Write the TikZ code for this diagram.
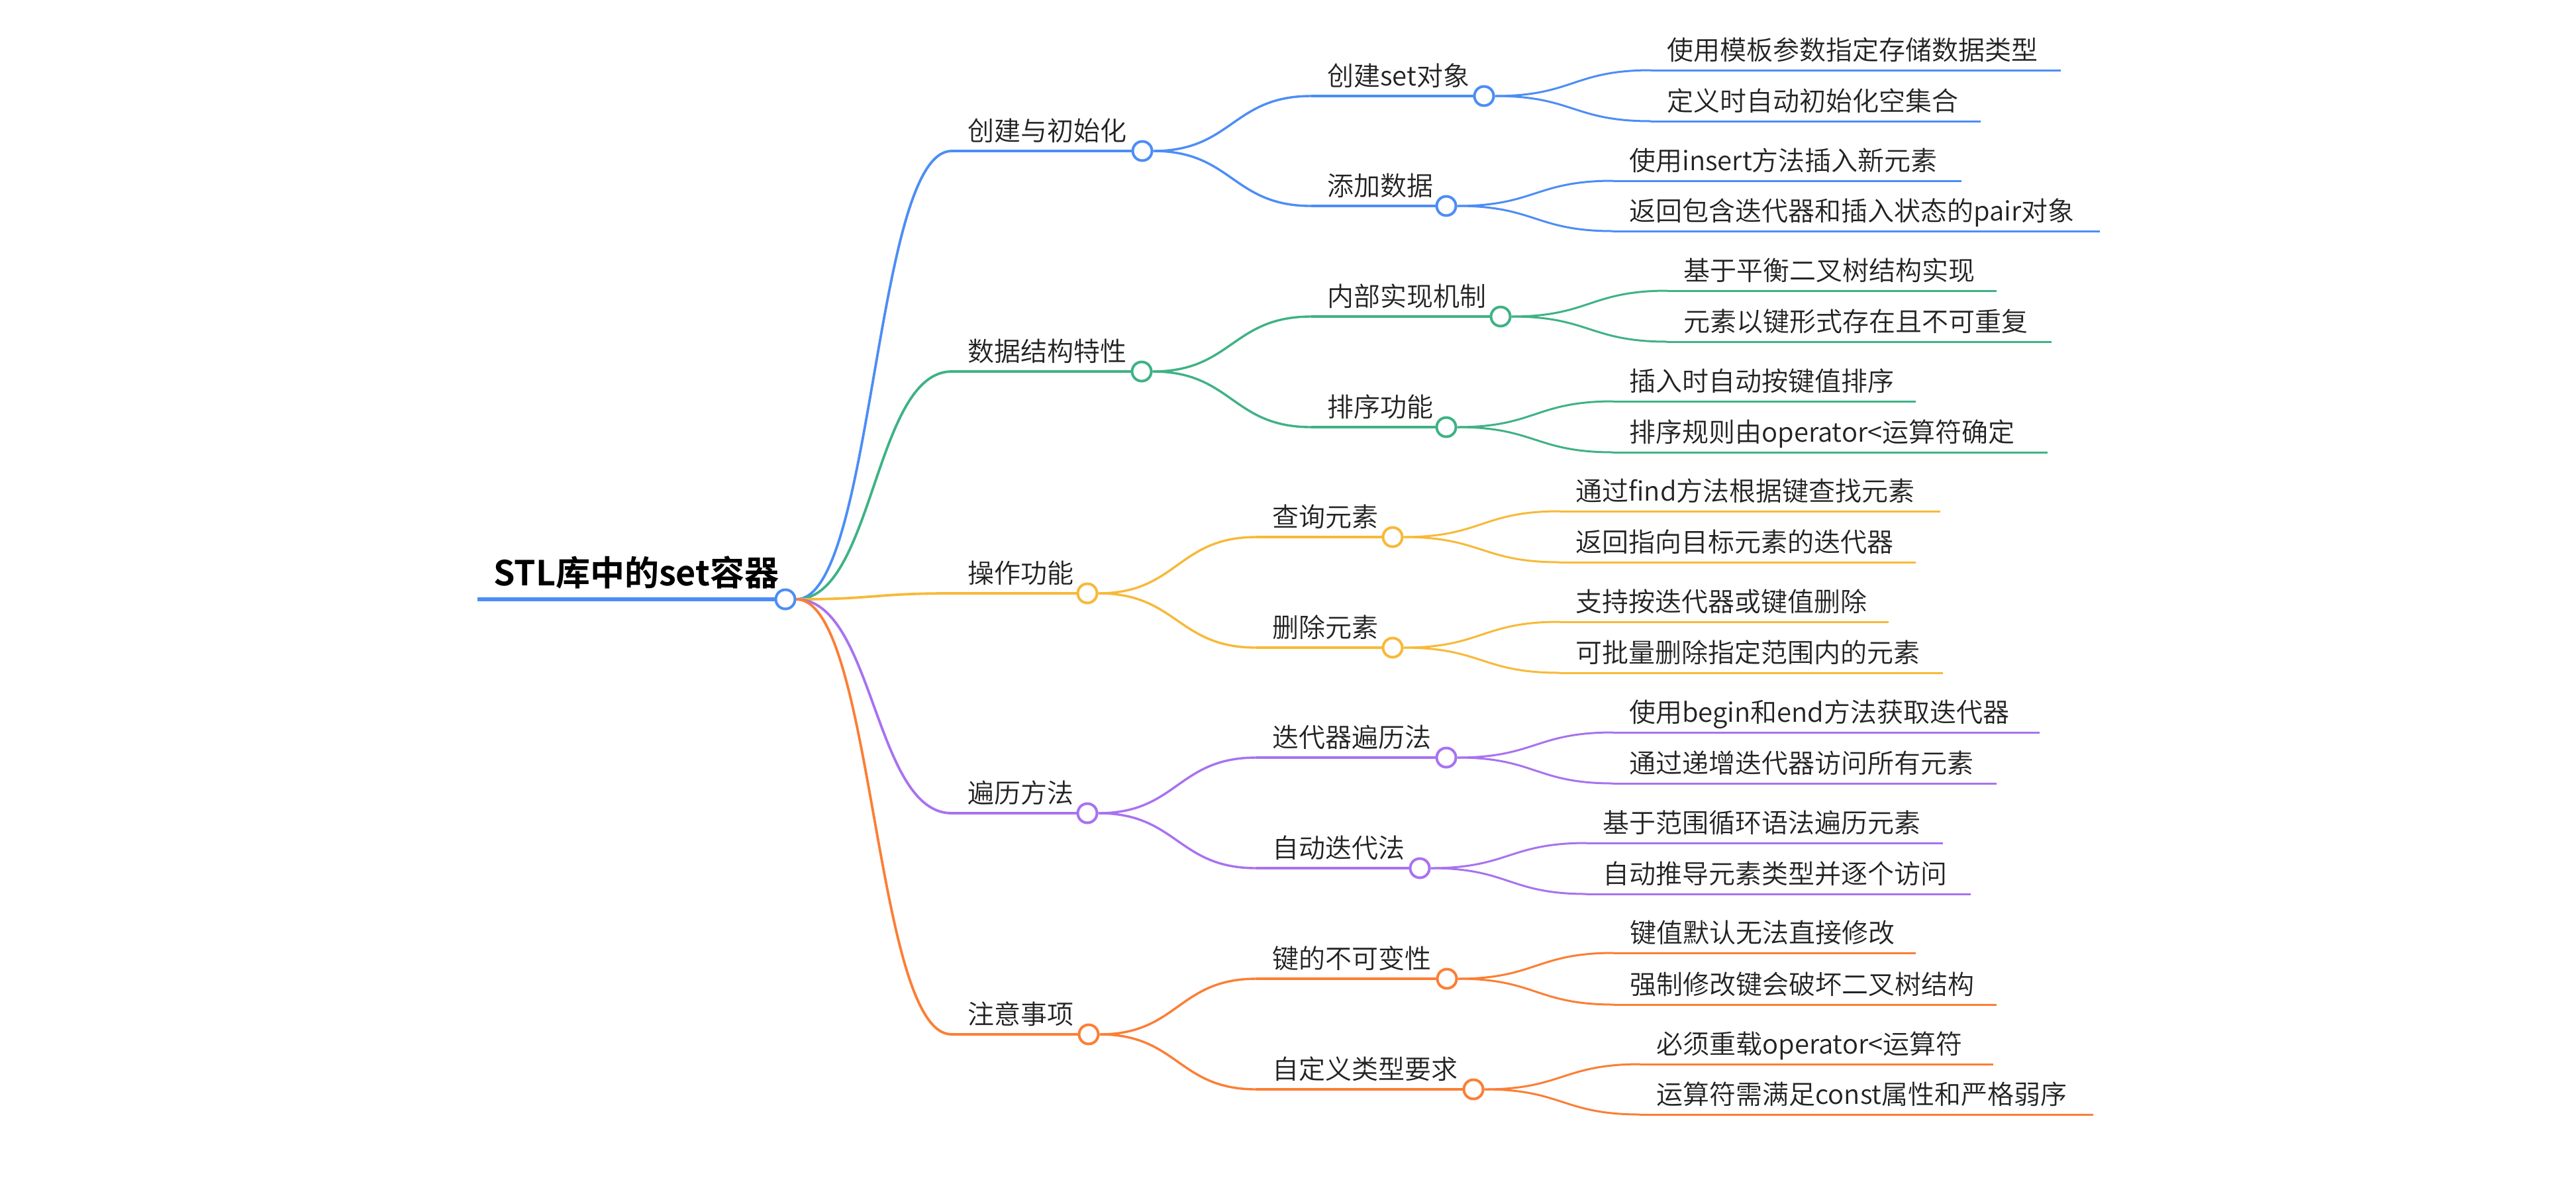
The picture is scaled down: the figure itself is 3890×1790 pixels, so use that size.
\documentclass[tikz,border=0pt]{standalone}
\usepackage{fontspec}
\setmainfont{Noto Sans CJK SC DemiLight}[BoldFont={Noto Sans CJK SC Bold}]
\usetikzlibrary{calc}
\definecolor{cblue}{HTML}{4C8DF6}
\definecolor{cgreen}{HTML}{3FB285}
\definecolor{cyellow}{HTML}{F8B938}
\definecolor{cpurple}{HTML}{A872F0}
\definecolor{corange}{HTML}{FC7E34}
\definecolor{ctext}{HTML}{222222}
\tikzset{
  dot/.style={circle, draw=#1, fill=white, line width=2pt, minimum size=14.5pt, inner sep=0pt},
  txt/.style={anchor=base west, inner sep=0pt, text=ctext, font=\fontsize{20pt}{24pt}\selectfont},
  roottxt/.style={anchor=base west, inner sep=0pt, text=black, font=\bfseries\fontsize{26pt}{30pt}\selectfont},
  lroot/.style={line width=3pt},
  lone/.style={line width=1.9pt},
  ltwo/.style={line width=1.7pt},
  lleaf/.style={line width=1.5pt},
}
\newcommand\conn[3]{\draw[#1] let \p1=(#2), \p2=(#3) in (\p1) .. controls ({(\x1+\x2)/2},\y1) and ({(\x1+\x2)/2},\y2) .. (\p2);}
% name, color, y, circle x, text
\newcommand\lvlone[5]{%
  \coordinate (#1s) at (1437,#3);
  \node[dot=#2] (#1) at (#4,#3) {};
  \node[txt] (#1t) at (1461,{#3-16}) {#5};
  \draw[#2,lone] (#1s) -- (#1.west);
  \conn{#2,lone}{root.east}{#1s}
}
% name, parent, color, line start x, y, circle x, text
\newcommand\lvltwo[7]{%
  \coordinate (#1s) at (#4,#5);
  \node[dot=#3] (#1) at (#6,#5) {};
  \node[txt] (#1t) at ({#4+24},{#5-16}) {#7};
  \draw[#3,ltwo] (#1s) -- (#1.west);
  \conn{#3,ltwo}{#2.east}{#1s}
}
% name, parent, color, line start x, y, end x, text
\newcommand\leaf[7]{%
  \coordinate (#1s) at (#4,#5);
  \coordinate (#1e) at (#6,#5);
  \node[txt] (#1t) at ({#4+24},{#5-16}) {#7};
  \draw[#3,lleaf] (#1s) -- (#1e);
  \conn{#3,lleaf}{#2.east}{#1s}
}
\begin{document}
\begin{tikzpicture}[x=0.5pt,y=-0.5pt]
\fill[white] (0,0) rectangle (3890,1790);
\useasboundingbox (0,0) rectangle (3890,1790);
% root
\coordinate (rootS) at (721,905);
\node[dot=cblue] (root) at (1186,905) {};
\node[roottxt] (rootT) at (745,884) {STL库中的set容器};
\draw[cblue,lroot] (rootS) -- (root.west);
% level 1
\lvlone{A}{cblue}{228}{1725}{创建与初始化}
\lvlone{B}{cgreen}{561}{1724}{数据结构特性}
\lvlone{C}{cyellow}{896}{1642}{操作功能}
\lvlone{D}{cpurple}{1228}{1642}{遍历方法}
\lvlone{E}{corange}{1562}{1644}{注意事项}
% level 2
\lvltwo{A1}{A}{cblue}{1980}{145}{2241}{创建set对象}
\lvltwo{A2}{A}{cblue}{1980}{311}{2184}{添加数据}
\lvltwo{B1}{B}{cgreen}{1980}{478}{2266}{内部实现机制}
\lvltwo{B2}{B}{cgreen}{1980}{645}{2184}{排序功能}
\lvltwo{C1}{C}{cyellow}{1897}{811}{2103}{查询元素}
\lvltwo{C2}{C}{cyellow}{1897}{978}{2103}{删除元素}
\lvltwo{D1}{D}{cpurple}{1897}{1144}{2184}{迭代器遍历法}
\lvltwo{D2}{D}{cpurple}{1897}{1311}{2144}{自动迭代法}
\lvltwo{E1}{E}{corange}{1897}{1478}{2185}{键的不可变性}
\lvltwo{E2}{E}{corange}{1897}{1645}{2225}{自定义类型要求}
% leaves
\leaf{A1a}{A1}{cblue}{2493}{106}{3112}{使用模板参数指定存储数据类型}
\leaf{A1b}{A1}{cblue}{2493}{183}{2991}{定义时自动初始化空集合}
\leaf{A2a}{A2}{cblue}{2436}{273}{2962}{使用insert方法插入新元素}
\leaf{A2b}{A2}{cblue}{2436}{349}{3171}{返回包含迭代器和插入状态的pair对象}
\leaf{B1a}{B1}{cgreen}{2518}{439}{3015}{基于平衡二叉树结构实现}
\leaf{B1b}{B1}{cgreen}{2518}{516}{3098}{元素以键形式存在且不可重复}
\leaf{B2a}{B2}{cgreen}{2436}{606}{2893}{插入时自动按键值排序}
\leaf{B2b}{B2}{cgreen}{2436}{683}{3092}{排序规则由operator<运算符确定}
\leaf{C1a}{C1}{cyellow}{2355}{772}{2930}{通过find方法根据键查找元素}
\leaf{C1b}{C1}{cyellow}{2355}{849}{2893}{返回指向目标元素的迭代器}
\leaf{C2a}{C2}{cyellow}{2355}{939}{2852}{支持按迭代器或键值删除}
\leaf{C2b}{C2}{cyellow}{2355}{1016}{2934}{可批量删除指定范围内的元素}
\leaf{D1a}{D1}{cpurple}{2436}{1106}{3080}{使用begin和end方法获取迭代器}
\leaf{D1b}{D1}{cpurple}{2436}{1183}{3015}{通过递增迭代器访问所有元素}
\leaf{D2a}{D2}{cpurple}{2396}{1273}{2934}{基于范围循环语法遍历元素}
\leaf{D2b}{D2}{cpurple}{2396}{1350}{2976}{自动推导元素类型并逐个访问}
\leaf{E1a}{E1}{corange}{2437}{1439}{2893}{键值默认无法直接修改}
\leaf{E1b}{E1}{corange}{2437}{1517}{3015}{强制修改键会破坏二叉树结构}
\leaf{E2a}{E2}{corange}{2477}{1607}{3010}{必须重载operator<运算符}
\leaf{E2b}{E2}{corange}{2477}{1683}{3161}{运算符需满足const属性和严格弱序}
\end{tikzpicture}
\end{document}
